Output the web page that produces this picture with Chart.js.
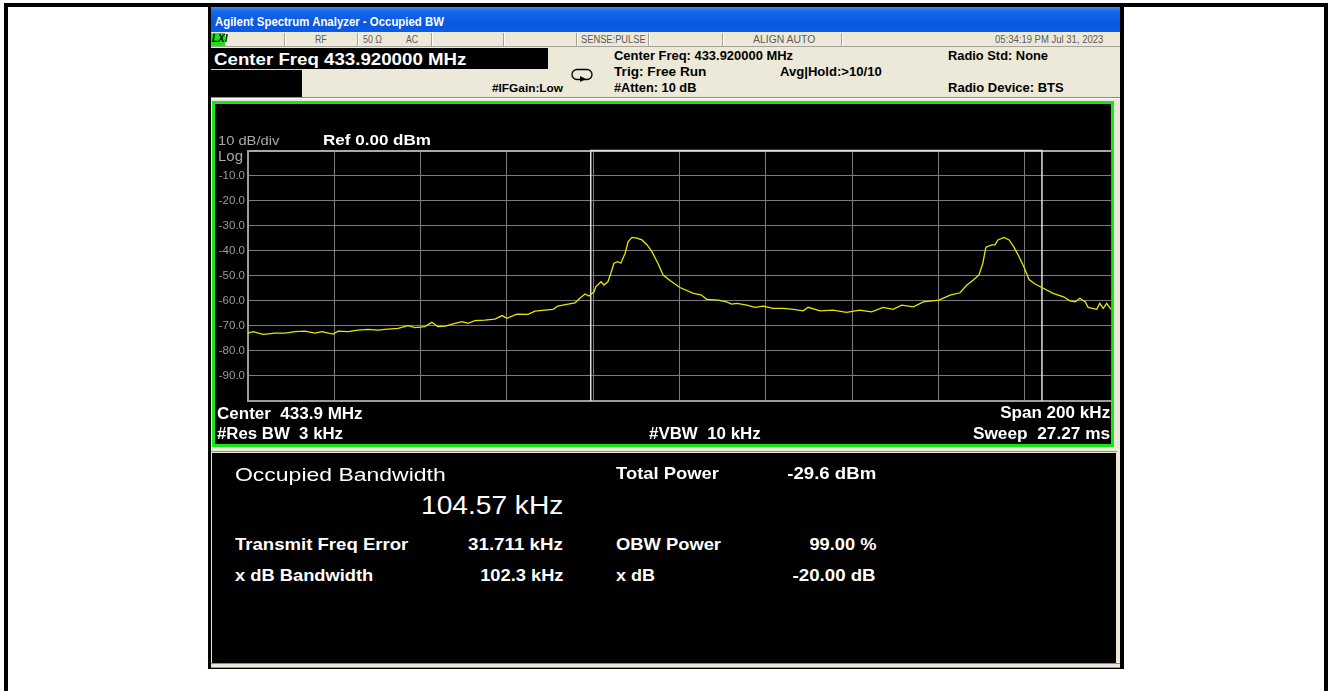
<!DOCTYPE html>
<html><head><meta charset="utf-8">
<script src="https://cdn.jsdelivr.net/npm/chart.js@4.4.1/dist/chart.umd.min.js"></script>
<style>
html,body{margin:0;padding:0;background:#fff;width:1333px;height:691px;overflow:hidden;font-family:"Liberation Sans",Arial,sans-serif;}
.abs{position:absolute;}
.t{position:absolute;white-space:pre;line-height:1;}
.hb{font-weight:bold;color:#000;font-size:12px;}
.st{color:#5a5a5a;font-size:10px;}
.pw{font-weight:bold;color:#fff;font-size:16px;}
.rw{font-weight:bold;color:#fff;font-size:17px;}
.dv{position:absolute;top:33px;width:1px;height:13px;background:#a5a39a;border-right:1px solid #fff;}
</style></head><body>
<!-- outer page frame -->
<div class="abs" style="left:4px;top:3px;width:1324px;height:720px;border:4px solid #000;box-sizing:border-box;"></div>
<!-- screenshot frame -->
<div class="abs" style="left:208px;top:7px;width:916px;height:662px;background:#000;"></div>
<div class="abs" style="left:211px;top:7px;width:909px;height:25px;background:linear-gradient(#3d8ff6 0%,#1566ea 18%,#0a57e0 65%,#0b5ce6 100%);"></div>
<div class="abs" style="left:211px;top:32px;width:909px;height:636px;background:#ece9d8;"></div>
<!-- status row -->
<div class="abs" style="left:211px;top:46px;width:909px;height:1px;background:#a5a39a;"></div>
<div class="abs" style="left:211px;top:33px;width:14px;height:13px;background:#19e619;"></div>
<div class="t" style="left:212px;top:34px;font-size:10px;font-weight:bold;font-style:italic;color:#000;">LXI</div>
<div class="dv" style="left:284px"></div><div class="dv" style="left:357px"></div><div class="dv" style="left:431px"></div>
<div class="dv" style="left:503px"></div><div class="dv" style="left:576px"></div><div class="dv" style="left:648px"></div>
<div class="dv" style="left:722px"></div><div class="dv" style="left:841px"></div>
<!-- header boxes -->
<div class="abs" style="left:211px;top:48px;width:337px;height:21px;background:#000;"></div>
<div class="abs" style="left:211px;top:69px;width:91px;height:1px;background:#d8d8d8;"></div>
<div class="abs" style="left:211px;top:70px;width:91px;height:27px;background:#000;"></div>
<div class="abs" style="left:211px;top:97px;width:909px;height:1px;background:#8a8a8a;"></div>
<div class="abs" style="left:211px;top:98px;width:909px;height:1px;background:#fff;"></div>
<svg class="abs" style="left:571px;top:68px" width="22" height="14" viewBox="0 0 22 14">
  <rect x="1" y="1.5" width="20" height="10" rx="5" ry="5" fill="none" stroke="#000" stroke-width="1.3"/>
  <path d="M9 8 L15 11 L9 14 Z" fill="#000"/>
</svg>
<!-- graph panel -->
<div class="abs" style="left:212px;top:101px;width:902px;height:346px;border:3px solid #19e619;box-sizing:border-box;background:#000;"></div>
<canvas id="c" class="abs" style="left:215px;top:104px;width:897px;height:340px;" width="897" height="340"></canvas>
<!-- results panel -->
<div class="abs" style="left:211px;top:451px;width:906px;height:1px;background:#8a8a8a;"></div>
<div class="abs" style="left:212px;top:453px;width:904px;height:210px;background:#000;"></div>
<div class="abs" style="left:211px;top:663px;width:909px;height:1px;background:#8a8a8a;"></div>
<div class="abs" style="left:211px;top:667px;width:909px;height:1px;background:#9a9a9a;"></div>

<!-- texts -->
<div class="t" data-x="215" data-b="26.5" data-w="229" style="font-size:13px;font-weight:bold;color:#fff;">Agilent Spectrum Analyzer - Occupied BW</div>
<div class="t st" data-x="315" data-b="43.3" data-w="11.7">RF</div>
<div class="t st" data-x="363" data-b="43.3" data-w="19">50 Ω</div>
<div class="t st" data-x="406" data-b="43.3" data-w="12">AC</div>
<div class="t st" data-x="581" data-b="43.3" data-w="64.7">SENSE:PULSE</div>
<div class="t st" data-x="752.7" data-b="43.3" data-w="62.3">ALIGN AUTO</div>
<div class="t st" data-x="995" data-b="43.3" data-w="108.3">05:34:19 PM Jul 31, 2023</div>
<div class="t" data-x="214.3" data-b="64.3" data-w="252.4" style="font-size:16.3px;font-weight:bold;color:#fff;">Center Freq 433.920000 MHz</div>
<div class="t hb" data-x="492.3" data-b="92.7" data-w="71" style="font-size:11px">#IFGain:Low</div>
<div class="t hb" data-x="614.3" data-b="60.5" data-w="179">Center Freq: 433.920000 MHz</div>
<div class="t hb" data-x="614.3" data-b="76" data-w="92.4">Trig: Free Run</div>
<div class="t hb" data-x="614.3" data-b="91.7" data-w="82.4">#Atten: 10 dB</div>
<div class="t hb" data-x="780" data-b="76" data-w="101.7">Avg|Hold:&gt;10/10</div>
<div class="t hb" data-x="948.3" data-b="60.5" data-w="100">Radio Std: None</div>
<div class="t hb" data-x="948.3" data-b="91.7" data-w="115.7">Radio Device: BTS</div>

<div class="t" data-x="217.7" data-b="145" data-w="61.3" style="font-size:13px;color:#a8a8a8;">10 dB/div</div>
<div class="t" data-x="322.7" data-b="145" data-w="108" style="font-size:15px;font-weight:bold;color:#fff;">Ref 0.00 dBm</div>
<div class="t" data-x="217.7" data-b="160.5" data-w="25" style="font-size:14px;color:#a8a8a8;">Log</div>
<div class="t pw" data-x="216.7" data-b="419.3" data-w="145.6">Center  433.9 MHz</div>
<div class="t pw" data-x="216.7" data-b="439.3" data-w="126">#Res BW  3 kHz</div>
<div class="t pw" data-x="649.3" data-b="439.3" data-w="111.7">#VBW  10 kHz</div>
<div class="t pw" data-r="1110.5" data-b="419" data-w="110">Span 200 kHz</div>
<div class="t pw" data-r="1110.5" data-b="439.3" data-w="137.3">Sweep  27.27 ms</div>

<div class="t" data-x="235" data-b="481.7" data-w="210.7" style="font-size:18.7px;color:#fff;">Occupied Bandwidth</div>
<div class="t" data-x="421" data-b="515" data-w="142.3" style="font-size:25.5px;color:#fff;">104.57 kHz</div>
<div class="t rw" data-x="235" data-b="550" data-w="173.3">Transmit Freq Error</div>
<div class="t rw" data-r="563.5" data-b="550" data-w="95">31.711 kHz</div>
<div class="t rw" data-x="235" data-b="581" data-w="138.3">x dB Bandwidth</div>
<div class="t rw" data-r="563.5" data-b="581" data-w="83.3">102.3 kHz</div>
<div class="t rw" data-x="616" data-b="479.5" data-w="103">Total Power</div>
<div class="t rw" data-r="876" data-b="479.5" data-w="89">-29.6 dBm</div>
<div class="t rw" data-x="616" data-b="550.5" data-w="105">OBW Power</div>
<div class="t rw" data-r="876" data-b="550.5" data-w="67">99.00 %</div>
<div class="t rw" data-x="616" data-b="581" data-w="39">x dB</div>
<div class="t rw" data-r="876" data-b="581" data-w="83">-20.00 dB</div>

<script>
// ---- data ----
const centerMHz = 433.9;
const spanKHz = 200;
const freqOffsetKHz = [
 -100.0,-98.8,-96.5,-93.7,-91.4,-89.1,-86.8,-84.5,-82.9,-80.3,-79.1,-76.8,-74.5,-72.2,-69.9,-67.6,-65.2,-62.9,-61.3,-59.0,
 -57.4,-56.0,-54.3,-52.0,-50.4,-49.0,-47.4,-45.1,-42.8,-41.1,-40.0,-37.7,-35.1,-33.5,-31.2,-29.3,-28.2,-25.8,-24.2,-23.1,
 -21.9,-21.0,-19.8,-19.4,-18.2,-17.5,-16.6,-15.9,-15.2,-14.3,-13.6,-12.6,-11.9,-11.0,-9.9,-8.7,-7.5,-6.4,-5.0,-3.8,
 -2.2,0.1,3.2,5.0,6.3,9.0,10.9,12.1,13.3,15.6,17.5,19.4,21.7,24.1,26.4,28.7,29.8,32.6,35.6,38.7,
 41.8,44.5,47.2,49.5,51.5,54.2,56.5,60.1,62.7,65.0,66.6,68.1,69.4,70.3,71.0,72.4,73.1,73.8,75.2,76.4,
 77.5,78.7,79.8,81.0,82.4,84.3,86.6,89.0,90.5,91.7,92.8,94.0,94.7,96.7,97.4,98.2,99.0,100.0
];
const traceDbm = [
 -72.9,-72.3,-73.4,-72.9,-72.9,-72.3,-72.1,-72.9,-72.3,-73.3,-72.1,-72.3,-71.7,-71.4,-71.7,-71.3,-71.0,-69.9,-70.7,-70.3,
 -68.6,-70.3,-70.1,-69.0,-68.3,-69.0,-67.9,-67.7,-67.3,-65.9,-67.0,-65.3,-65.4,-64.1,-63.7,-63.4,-62.1,-61.3,-60.8,-59.0,
 -57.3,-58.1,-56.4,-54.4,-52.4,-53.7,-52.4,-49.0,-45.0,-44.4,-45.0,-41.0,-36.4,-34.7,-35.0,-35.7,-37.7,-40.4,-45.0,-49.7,
 -51.9,-54.7,-57.0,-57.6,-59.4,-59.7,-60.4,-61.3,-61.0,-61.7,-62.6,-62.1,-63.0,-63.0,-63.4,-64.0,-62.6,-64.0,-63.7,-64.6,
 -63.7,-64.4,-62.6,-63.4,-61.7,-62.4,-60.4,-59.7,-57.7,-56.8,-53.7,-51.7,-49.7,-45.0,-38.6,-37.7,-37.7,-35.7,-34.7,-35.7,
 -38.6,-42.4,-46.4,-51.5,-53.3,-55.0,-57.0,-58.4,-60.0,-60.4,-59.0,-60.4,-62.6,-63.4,-61.0,-63.0,-61.0,-63.4
];
const obwCenterOffsetKHz = 31.711;
const obwKHz = 104.57;
const refLevelDbm = 0;
const dbPerDiv = 10;
const yTickValues = [-10,-20,-30,-40,-50,-60,-70,-80,-90];

// ---- text fitting (layout only) ----
function fitTexts(){
  document.querySelectorAll('.t[data-b]').forEach(el=>{
    el.style.transform='none';
    const fs=parseFloat(getComputedStyle(el).fontSize);
    el.style.top=(parseFloat(el.dataset.b)-0.8465*fs)+'px';
    const w=el.getBoundingClientRect().width;
    const s=parseFloat(el.dataset.w)/w;
    if(el.dataset.r){el.style.left=(parseFloat(el.dataset.r)-w)+'px';el.style.transformOrigin='right center';}
    else{el.style.left=el.dataset.x+'px';el.style.transformOrigin='left center';}
    el.style.transform='scaleX('+s.toFixed(4)+')';
  });
}
fitTexts();
if(document.fonts&&document.fonts.ready)document.fonts.ready.then(fitTexts);

// ---- chart ----
const tracePts = freqOffsetKHz.map((f,i)=>({x:f,y:traceDbm[i]}));
const e0 = obwCenterOffsetKHz - obwKHz/2, e1 = obwCenterOffsetKHz + obwKHz/2;
const bottomDbm = refLevelDbm - 10*dbPerDiv;
const markerPts = [{x:e0,y:bottomDbm},{x:e0,y:refLevelDbm},{x:e1,y:refLevelDbm},{x:e1,y:bottomDbm}];

new Chart(document.getElementById('c'),{
  type:'line',
  data:{datasets:[
    {data:tracePts,borderColor:'#e6e600',borderWidth:1.3,pointRadius:0,tension:0,order:1},
    {data:markerPts,borderColor:'#dedede',borderWidth:1.5,pointRadius:0,tension:0,clip:false,order:2}
  ]},
  options:{
    animation:false,responsive:false,devicePixelRatio:1,
    layout:{padding:{top:46.5,bottom:43,left:0,right:1}},
    plugins:{legend:{display:false},tooltip:{enabled:false}},
    scales:{
      x:{type:'linear',min:-spanKHz/2,max:spanKHz/2,
        ticks:{stepSize:spanKHz/10,display:false},
        grid:{color:'#7c7c7c',lineWidth:1,drawTicks:false},
        border:{color:'#9c9c9c',width:2},
        afterFit(s){s.height=0;}},
      y:{min:bottomDbm,max:refLevelDbm,
        ticks:{stepSize:dbPerDiv,color:'#9a9a9a',padding:3,font:{family:'Liberation Sans',size:11.5},
          callback:v=>yTickValues.includes(v)?v.toFixed(1):''},
        grid:{color:c=>c.tick&&c.tick.value===refLevelDbm?'#a8a8a8':'#7c7c7c',lineWidth:c=>c.tick&&c.tick.value===refLevelDbm?2:1,drawTicks:false},
        border:{color:'#9c9c9c',width:2},
        afterFit(s){s.width=33;}}
    }
  }
});
</script>
</body></html>
